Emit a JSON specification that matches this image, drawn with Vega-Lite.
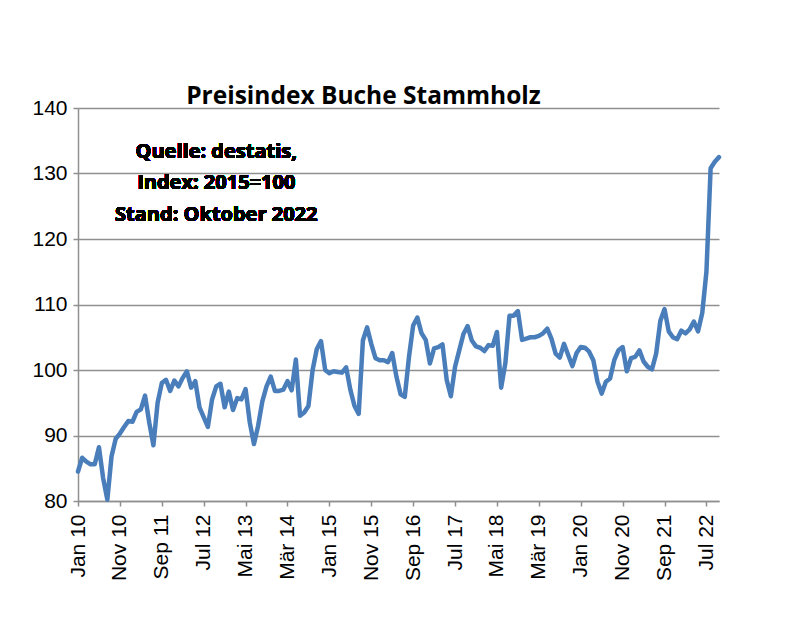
{
  "$schema": "https://vega.github.io/schema/vega-lite/v6.json",
  "width": 641,
  "height": 393,
  "autosize": {"type": "none"},
  "padding": {"left": 78, "top": 108, "right": 81, "bottom": 140},
  "background": "white",
  "title": {
    "text": "Preisindex Buche Stammholz",
    "anchor": "middle",
    "frame": "group",
    "dx": -35,
    "offset": -12,
    "font": "Open Sans",
    "fontWeight": "bold",
    "fontSize": 24.5,
    "color": "black"
  },
  "data": {
    "values": [
      {"m": "Jan 10", "v": 84.5}, {"m": "Feb 10", "v": 86.6}, {"m": "Mär 10", "v": 86.0}, {"m": "Apr 10", "v": 85.6}, {"m": "Mai 10", "v": 85.6}, {"m": "Jun 10", "v": 88.2}, {"m": "Jul 10", "v": 83.5}, {"m": "Aug 10", "v": 80.2}, {"m": "Sep 10", "v": 86.8}, {"m": "Okt 10", "v": 89.5}, {"m": "Nov 10", "v": 90.3}, {"m": "Dez 10", "v": 91.3},
      {"m": "Jan 11", "v": 92.2}, {"m": "Feb 11", "v": 92.1}, {"m": "Mär 11", "v": 93.6}, {"m": "Apr 11", "v": 94.0}, {"m": "Mai 11", "v": 96.1}, {"m": "Jun 11", "v": 92.0}, {"m": "Jul 11", "v": 88.5}, {"m": "Aug 11", "v": 95.0}, {"m": "Sep 11", "v": 98.0}, {"m": "Okt 11", "v": 98.5}, {"m": "Nov 11", "v": 96.8}, {"m": "Dez 11", "v": 98.4},
      {"m": "Jan 12", "v": 97.5}, {"m": "Feb 12", "v": 98.8}, {"m": "Mär 12", "v": 99.8}, {"m": "Apr 12", "v": 97.3}, {"m": "Mai 12", "v": 98.3}, {"m": "Jun 12", "v": 94.3}, {"m": "Jul 12", "v": 92.8}, {"m": "Aug 12", "v": 91.3}, {"m": "Sep 12", "v": 95.5}, {"m": "Okt 12", "v": 97.5}, {"m": "Nov 12", "v": 97.9}, {"m": "Dez 12", "v": 94.3},
      {"m": "Jan 13", "v": 96.7}, {"m": "Feb 13", "v": 93.9}, {"m": "Mär 13", "v": 95.7}, {"m": "Apr 13", "v": 95.5}, {"m": "Mai 13", "v": 97.1}, {"m": "Jun 13", "v": 92.0}, {"m": "Jul 13", "v": 88.7}, {"m": "Aug 13", "v": 91.5}, {"m": "Sep 13", "v": 95.2}, {"m": "Okt 13", "v": 97.5}, {"m": "Nov 13", "v": 99.0}, {"m": "Dez 13", "v": 96.8},
      {"m": "Jan 14", "v": 96.8}, {"m": "Feb 14", "v": 97.0}, {"m": "Mär 14", "v": 98.3}, {"m": "Apr 14", "v": 96.9}, {"m": "Mai 14", "v": 101.6}, {"m": "Jun 14", "v": 93.0}, {"m": "Jul 14", "v": 93.5}, {"m": "Aug 14", "v": 94.5}, {"m": "Sep 14", "v": 100.0}, {"m": "Okt 14", "v": 103.2}, {"m": "Nov 14", "v": 104.4}, {"m": "Dez 14", "v": 100.0},
      {"m": "Jan 15", "v": 99.5}, {"m": "Feb 15", "v": 99.8}, {"m": "Mär 15", "v": 99.7}, {"m": "Apr 15", "v": 99.6}, {"m": "Mai 15", "v": 100.4}, {"m": "Jun 15", "v": 97.0}, {"m": "Jul 15", "v": 94.5}, {"m": "Aug 15", "v": 93.3}, {"m": "Sep 15", "v": 104.5}, {"m": "Okt 15", "v": 106.5}, {"m": "Nov 15", "v": 104.0}, {"m": "Dez 15", "v": 101.8},
      {"m": "Jan 16", "v": 101.5}, {"m": "Feb 16", "v": 101.5}, {"m": "Mär 16", "v": 101.2}, {"m": "Apr 16", "v": 102.6}, {"m": "Mai 16", "v": 99.0}, {"m": "Jun 16", "v": 96.3}, {"m": "Jul 16", "v": 95.9}, {"m": "Aug 16", "v": 102.0}, {"m": "Sep 16", "v": 106.8}, {"m": "Okt 16", "v": 108.0}, {"m": "Nov 16", "v": 105.6}, {"m": "Dez 16", "v": 104.6},
      {"m": "Jan 17", "v": 101.0}, {"m": "Feb 17", "v": 103.3}, {"m": "Mär 17", "v": 103.5}, {"m": "Apr 17", "v": 103.9}, {"m": "Mai 17", "v": 98.5}, {"m": "Jun 17", "v": 96.0}, {"m": "Jul 17", "v": 100.5}, {"m": "Aug 17", "v": 103.0}, {"m": "Sep 17", "v": 105.5}, {"m": "Okt 17", "v": 106.7}, {"m": "Nov 17", "v": 104.5}, {"m": "Dez 17", "v": 103.6},
      {"m": "Jan 18", "v": 103.4}, {"m": "Feb 18", "v": 102.9}, {"m": "Mär 18", "v": 103.8}, {"m": "Apr 18", "v": 103.7}, {"m": "Mai 18", "v": 105.8}, {"m": "Jun 18", "v": 97.3}, {"m": "Jul 18", "v": 101.0}, {"m": "Aug 18", "v": 108.3}, {"m": "Sep 18", "v": 108.3}, {"m": "Okt 18", "v": 109.0}, {"m": "Nov 18", "v": 104.6}, {"m": "Dez 18", "v": 104.8},
      {"m": "Jan 19", "v": 105.0}, {"m": "Feb 19", "v": 105.0}, {"m": "Mär 19", "v": 105.2}, {"m": "Apr 19", "v": 105.6}, {"m": "Mai 19", "v": 106.3}, {"m": "Jun 19", "v": 104.8}, {"m": "Jul 19", "v": 102.5}, {"m": "Aug 19", "v": 101.9}, {"m": "Sep 19", "v": 104.0}, {"m": "Okt 19", "v": 102.3}, {"m": "Nov 19", "v": 100.6}, {"m": "Dez 19", "v": 102.6},
      {"m": "Jan 20", "v": 103.5}, {"m": "Feb 20", "v": 103.4}, {"m": "Mär 20", "v": 102.8}, {"m": "Apr 20", "v": 101.5}, {"m": "Mai 20", "v": 98.2}, {"m": "Jun 20", "v": 96.4}, {"m": "Jul 20", "v": 98.2}, {"m": "Aug 20", "v": 98.7}, {"m": "Sep 20", "v": 101.5}, {"m": "Okt 20", "v": 103.0}, {"m": "Nov 20", "v": 103.5}, {"m": "Dez 20", "v": 99.8},
      {"m": "Jan 21", "v": 101.8}, {"m": "Feb 21", "v": 102.0}, {"m": "Mär 21", "v": 103.0}, {"m": "Apr 21", "v": 101.3}, {"m": "Mai 21", "v": 100.5}, {"m": "Jun 21", "v": 100.1}, {"m": "Jul 21", "v": 102.5}, {"m": "Aug 21", "v": 107.5}, {"m": "Sep 21", "v": 109.3}, {"m": "Okt 21", "v": 105.9}, {"m": "Nov 21", "v": 105.0}, {"m": "Dez 21", "v": 104.7},
      {"m": "Jan 22", "v": 106.0}, {"m": "Feb 22", "v": 105.6}, {"m": "Mär 22", "v": 106.2}, {"m": "Apr 22", "v": 107.4}, {"m": "Mai 22", "v": 105.9}, {"m": "Jun 22", "v": 108.7}, {"m": "Jul 22", "v": 115.0}, {"m": "Aug 22", "v": 130.8}, {"m": "Sep 22", "v": 131.8}, {"m": "Okt 22", "v": 132.5}
    ]
  },
  "layer": [
    {
      "mark": {"type": "line", "color": "#4A7EBB", "strokeWidth": 4.5, "strokeJoin": "round", "strokeCap": "round", "clip": false},
      "encoding": {
        "x": {
          "field": "m",
          "type": "ordinal",
          "sort": null,
          "scale": {"type": "point", "padding": 0},
          "axis": {
            "values": ["Jan 10", "Nov 10", "Sep 11", "Jul 12", "Mai 13", "Mär 14", "Jan 15", "Nov 15", "Sep 16", "Jul 17", "Mai 18", "Mär 19", "Jan 20", "Nov 20", "Sep 21", "Jul 22"],
            "title": null,
            "labelAngle": -90,
            "labelFont": "Liberation Sans",
            "labelFontSize": 21,
            "labelColor": "black",
            "labelPadding": 8,
            "tickSize": 5,
            "tickWidth": 1.5,
            "tickColor": "#8f8f8f",
            "domainColor": "#8f8f8f",
            "domainWidth": 1.5,
            "grid": false
          }
        },
        "y": {
          "field": "v",
          "type": "quantitative",
          "scale": {"domain": [80, 140], "nice": false, "zero": false},
          "axis": {
            "values": [80, 90, 100, 110, 120, 130, 140],
            "title": null,
            "labelFont": "Liberation Sans",
            "labelFontSize": 21,
            "labelColor": "black",
            "labelPadding": 6,
            "tickSize": 5,
            "tickWidth": 1.5,
            "tickColor": "#8f8f8f",
            "domainColor": "#8f8f8f",
            "domainWidth": 1.5,
            "grid": true,
            "gridColor": "#8f8f8f",
            "gridWidth": 1.5
          }
        }
      }
    },
    {
      "mark": {"type": "text", "font": "Open Sans", "fontWeight": "bold", "fontSize": 20, "align": "center", "baseline": "alphabetic", "lineHeight": 31.5, "color": "black"},
      "encoding": {
        "x": {"datum": "Okt 12"},
        "y": {"datum": 132.4},
        "text": {"value": ["Quelle: destatis,", "Index: 2015=100", "Stand: Oktober 2022"]}
      }
    }
  ],
  "config": {"view": {"stroke": null}}
}
